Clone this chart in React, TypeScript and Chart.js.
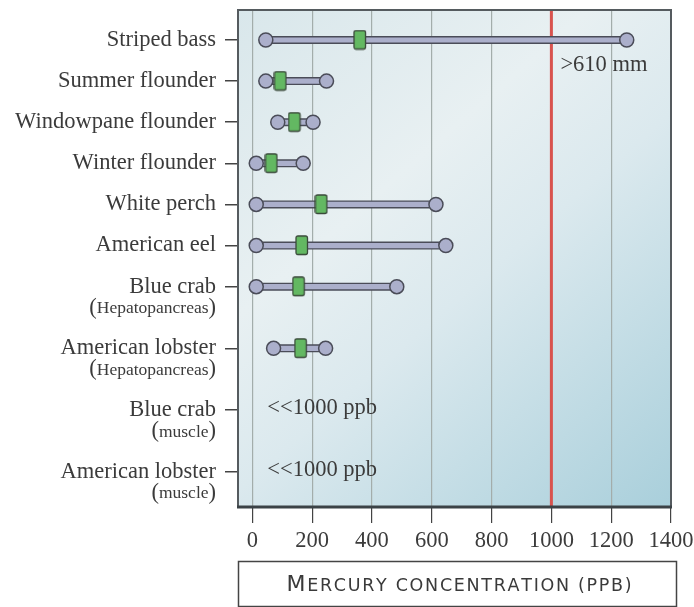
import React, { useEffect, useRef } from "react";
import { Chart, registerables } from "chart.js";

Chart.register(...registerables);

const species = [
  "Striped bass",
  "Summer flounder",
  "Windowpane flounder",
  "Winter flounder",
  "White perch",
  "American eel",
  "Blue crab",
  "American lobster",
  "Blue crab",
  "American lobster",
];
const subLabels = ["", "", "", "", "", "", "Hepatopancreas", "Hepatopancreas", "muscle", "muscle"];
const rowPos = [0, 1, 2, 3, 4, 5, 6, 7.5, 9, 10.5];
const minVals: (number | null)[] = [45, 45, 85, 13, 13, 13, 13, 71, null, null];
const meanVals: (number | null)[] = [360, 94, 141, 64, 231, 166, 155, 162, null, null];
const maxVals: (number | null)[] = [1252, 248, 203, 170, 614, 647, 483, 245, null, null];
const rowNotes = ["", "", "", "", "", "", "", "", "<<1000 ppb", "<<1000 ppb"];
const xTicks = [0, 200, 400, 600, 800, 1000, 1200, 1400];
const thresholdValue = 1000;
const thresholdNote = ">610 mm";
const axisTitle = "Mercury concentration (ppb)";

const SERIF = "'Liberation Serif', 'DejaVu Serif', serif";
const SANS = "'DejaVu Sans', 'Open Sans', sans-serif";
const TEXT = "#3b3b3b";
const LAV = "#abafcb";
const DARK = "#4a4c58";
const MAIN_FONT = 22.5;
const SUB_FONT = 17.5;

function makeGreenBox(): HTMLCanvasElement {
  const c = document.createElement("canvas");
  c.width = 14;
  c.height = 21;
  const g = c.getContext("2d")!;
  g.fillStyle = "#63b862";
  g.strokeStyle = "#3a4a3a";
  g.lineWidth = 1.3;
  const x = 1, y = 1, w = 11.5, h = 18.5, r = 2;
  g.beginPath();
  g.moveTo(x + r, y);
  g.lineTo(x + w - r, y);
  g.quadraticCurveTo(x + w, y, x + w, y + r);
  g.lineTo(x + w, y + h - r);
  g.quadraticCurveTo(x + w, y + h, x + w - r, y + h);
  g.lineTo(x + r, y + h);
  g.quadraticCurveTo(x, y + h, x, y + h - r);
  g.lineTo(x, y + r);
  g.quadraticCurveTo(x, y, x + r, y);
  g.closePath();
  g.fill();
  g.stroke();
  return c;
}

const decorPlugin = {
  id: "decor",
  beforeDraw(chart: any) {
    const { ctx, chartArea: a } = chart;
    ctx.save();
    const g = ctx.createLinearGradient(a.left, a.top, a.right, a.bottom);
    g.addColorStop(0, "#d9e7eb");
    g.addColorStop(0.35, "#e8f0f2");
    g.addColorStop(0.55, "#dbe9ee");
    g.addColorStop(1, "#a9cfdb");
    ctx.fillStyle = g;
    ctx.fillRect(a.left, a.top, a.right - a.left, a.bottom - a.top);
    ctx.restore();
  },
  beforeDatasetsDraw(chart: any) {
    const { ctx, chartArea: a, scales } = chart;
    const px = scales.x.getPixelForValue(thresholdValue);
    ctx.save();
    ctx.strokeStyle = "#d9534e";
    ctx.lineWidth = 3;
    ctx.beginPath();
    ctx.moveTo(px, a.top);
    ctx.lineTo(px, a.bottom);
    ctx.stroke();
    ctx.restore();
  },
  afterDraw(chart: any) {
    const { ctx, chartArea: a, scales } = chart;
    const ys = scales.y;
    const xs = scales.x;
    ctx.save();
    // frame
    ctx.strokeStyle = "#555b5f";
    ctx.lineWidth = 2;
    ctx.beginPath();
    ctx.moveTo(a.left, a.top);
    ctx.lineTo(a.right, a.top);
    ctx.lineTo(a.right, a.bottom);
    ctx.stroke();
    ctx.strokeStyle = "#3b4246";
    ctx.lineWidth = 3;
    ctx.beginPath();
    ctx.moveTo(a.left - 1, a.bottom);
    ctx.lineTo(a.right + 1, a.bottom);
    ctx.stroke();

    // y labels
    ctx.fillStyle = TEXT;
    ctx.textBaseline = "middle";
    const rightX = a.left - 22;
    species.forEach((name, i) => {
      const y = ys.getPixelForValue(rowPos[i]);
      ctx.font = `${MAIN_FONT}px ${SERIF}`;
      ctx.textAlign = "right";
      ctx.fillText(name, rightX, y);
      const sub = subLabels[i];
      if (sub) {
        const y2 = y + 21;
        ctx.font = `${MAIN_FONT}px ${SERIF}`;
        const pw = ctx.measureText(")").width;
        ctx.font = `${SUB_FONT}px ${SERIF}`;
        const sw = ctx.measureText(sub).width;
        ctx.textAlign = "left";
        let x = rightX - pw * 2 - sw;
        ctx.font = `${MAIN_FONT}px ${SERIF}`;
        ctx.fillText("(", x, y2);
        x += pw;
        ctx.font = `${SUB_FONT}px ${SERIF}`;
        ctx.fillText(sub, x, y2 + 1);
        x += sw;
        ctx.font = `${MAIN_FONT}px ${SERIF}`;
        ctx.fillText(")", x, y2);
      }
      if (rowNotes[i]) {
        ctx.font = `${MAIN_FONT}px ${SERIF}`;
        ctx.textAlign = "left";
        ctx.fillText(rowNotes[i], xs.getPixelForValue(50), y - 2);
      }
    });

    // threshold note
    ctx.font = `${MAIN_FONT}px ${SERIF}`;
    ctx.textAlign = "left";
    ctx.fillText(thresholdNote, xs.getPixelForValue(thresholdValue) + 9, ys.getPixelForValue(0.62));

    // title box
    const bx = a.left, by = 561, bw = 438, bh = 45;
    ctx.fillStyle = "#ffffff";
    ctx.fillRect(bx, by, bw, bh);
    ctx.strokeStyle = "#444";
    ctx.lineWidth = 1.5;
    ctx.strokeRect(bx + 0.5, by + 0.5, bw, bh);
    ctx.fillStyle = "#3a3a3a";
    const first = axisTitle[0].toUpperCase();
    const rest = axisTitle.slice(1).toUpperCase();
    const targetW = 341;
    const bigF = `22px ${SANS}`;
    const smallF = `17.5px ${SANS}`;
    ctx.font = bigF;
    const w1 = ctx.measureText(first).width;
    ctx.font = smallF;
    const w2 = ctx.measureText(rest).width;
    const spacing = Math.max(0, (targetW - w1 - w2) / rest.length);
    const tx = bx + bw / 2 - targetW / 2;
    ctx.textBaseline = "alphabetic";
    ctx.textAlign = "left";
    ctx.font = bigF;
    ctx.fillText(first, tx, by + 30);
    ctx.font = smallF;
    let cx = tx + w1 + spacing;
    for (const ch of rest) {
      ctx.fillText(ch, cx, by + 30);
      cx += ctx.measureText(ch).width + spacing;
    }
    ctx.restore();
  },
};

export default function App() {
  const ref = useRef<HTMLCanvasElement | null>(null);
  useEffect(() => {
    if (!ref.current) return;
    const green = makeGreenBox();
    const outline: any[] = [];
    const inner: any[] = [];
    const circles: any[] = [];
    const means: any[] = [];
    rowPos.forEach((p, i) => {
      const lo = minVals[i];
      const hi = maxVals[i];
      if (lo !== null && hi !== null) {
        outline.push({
          type: "line",
          data: [{ x: lo, y: p }, { x: hi, y: p }],
          borderColor: DARK,
          borderWidth: 8,
          pointRadius: 0,
          order: 4,
        });
        inner.push({
          type: "line",
          data: [{ x: lo, y: p }, { x: hi, y: p }],
          borderColor: LAV,
          borderWidth: 5.2,
          pointRadius: 0,
          order: 3,
        });
        circles.push({ x: lo, y: p }, { x: hi, y: p });
      }
      const m = meanVals[i];
      if (m !== null) means.push({ x: m, y: p });
    });
    const chart = new Chart(ref.current, {
      type: "scatter",
      data: {
        datasets: [
          ...outline,
          ...inner,
          {
            type: "scatter",
            data: circles,
            pointRadius: 7,
            pointBackgroundColor: LAV,
            pointBorderColor: DARK,
            pointBorderWidth: 1.5,
            order: 2,
          },
          {
            type: "scatter",
            data: means,
            pointStyle: green,
            pointRadius: 9,
            order: 1,
          },
        ],
      } as any,
      options: {
        animation: false,
        responsive: false,
        maintainAspectRatio: false,
        layout: { padding: { top: 10, right: 23, left: 0, bottom: 0 } },
        plugins: { legend: { display: false }, tooltip: { enabled: false } },
        scales: {
          x: {
            type: "linear",
            min: -48,
            max: 1400,
            afterBuildTicks: (s: any) => {
              s.ticks = xTicks.map((v) => ({ value: v }));
            },
            afterFit: (s: any) => {
              s.height = 100;
              s.paddingLeft = 0;
              s.paddingRight = 0;
            },
            grid: {
              color: "#a3adab",
              lineWidth: 1.2,
              tickColor: "#444",
              tickLength: 16,
              drawTicks: true,
            },
            border: { display: false },
            ticks: {
              color: TEXT,
              font: { family: SERIF, size: MAIN_FONT },
              padding: 5,
              maxRotation: 0,
              autoSkip: false,
              callback: (v: any) => String(v),
            },
          },
          y: {
            type: "linear",
            reverse: true,
            min: -0.73,
            max: 11.36,
            afterBuildTicks: (s: any) => {
              s.ticks = rowPos.map((v) => ({ value: v }));
            },
            afterFit: (s: any) => {
              s.width = 238;
              s.paddingTop = 0;
              s.paddingBottom = 0;
            },
            grid: {
              drawOnChartArea: false,
              tickColor: "#444",
              tickLength: 13,
              lineWidth: 1.5,
            },
            border: { display: true, color: "#555b5f", width: 2 },
            ticks: { display: false },
          },
        },
      } as any,
      plugins: [decorPlugin],
    });
    return () => chart.destroy();
  }, []);
  return (
    <div style={{ position: "fixed", left: 0, top: 0, width: 694, height: 607, background: "#fff" }}>
      <canvas ref={ref} width={694} height={607} style={{ width: 694, height: 607 }} />
    </div>
  );
}
